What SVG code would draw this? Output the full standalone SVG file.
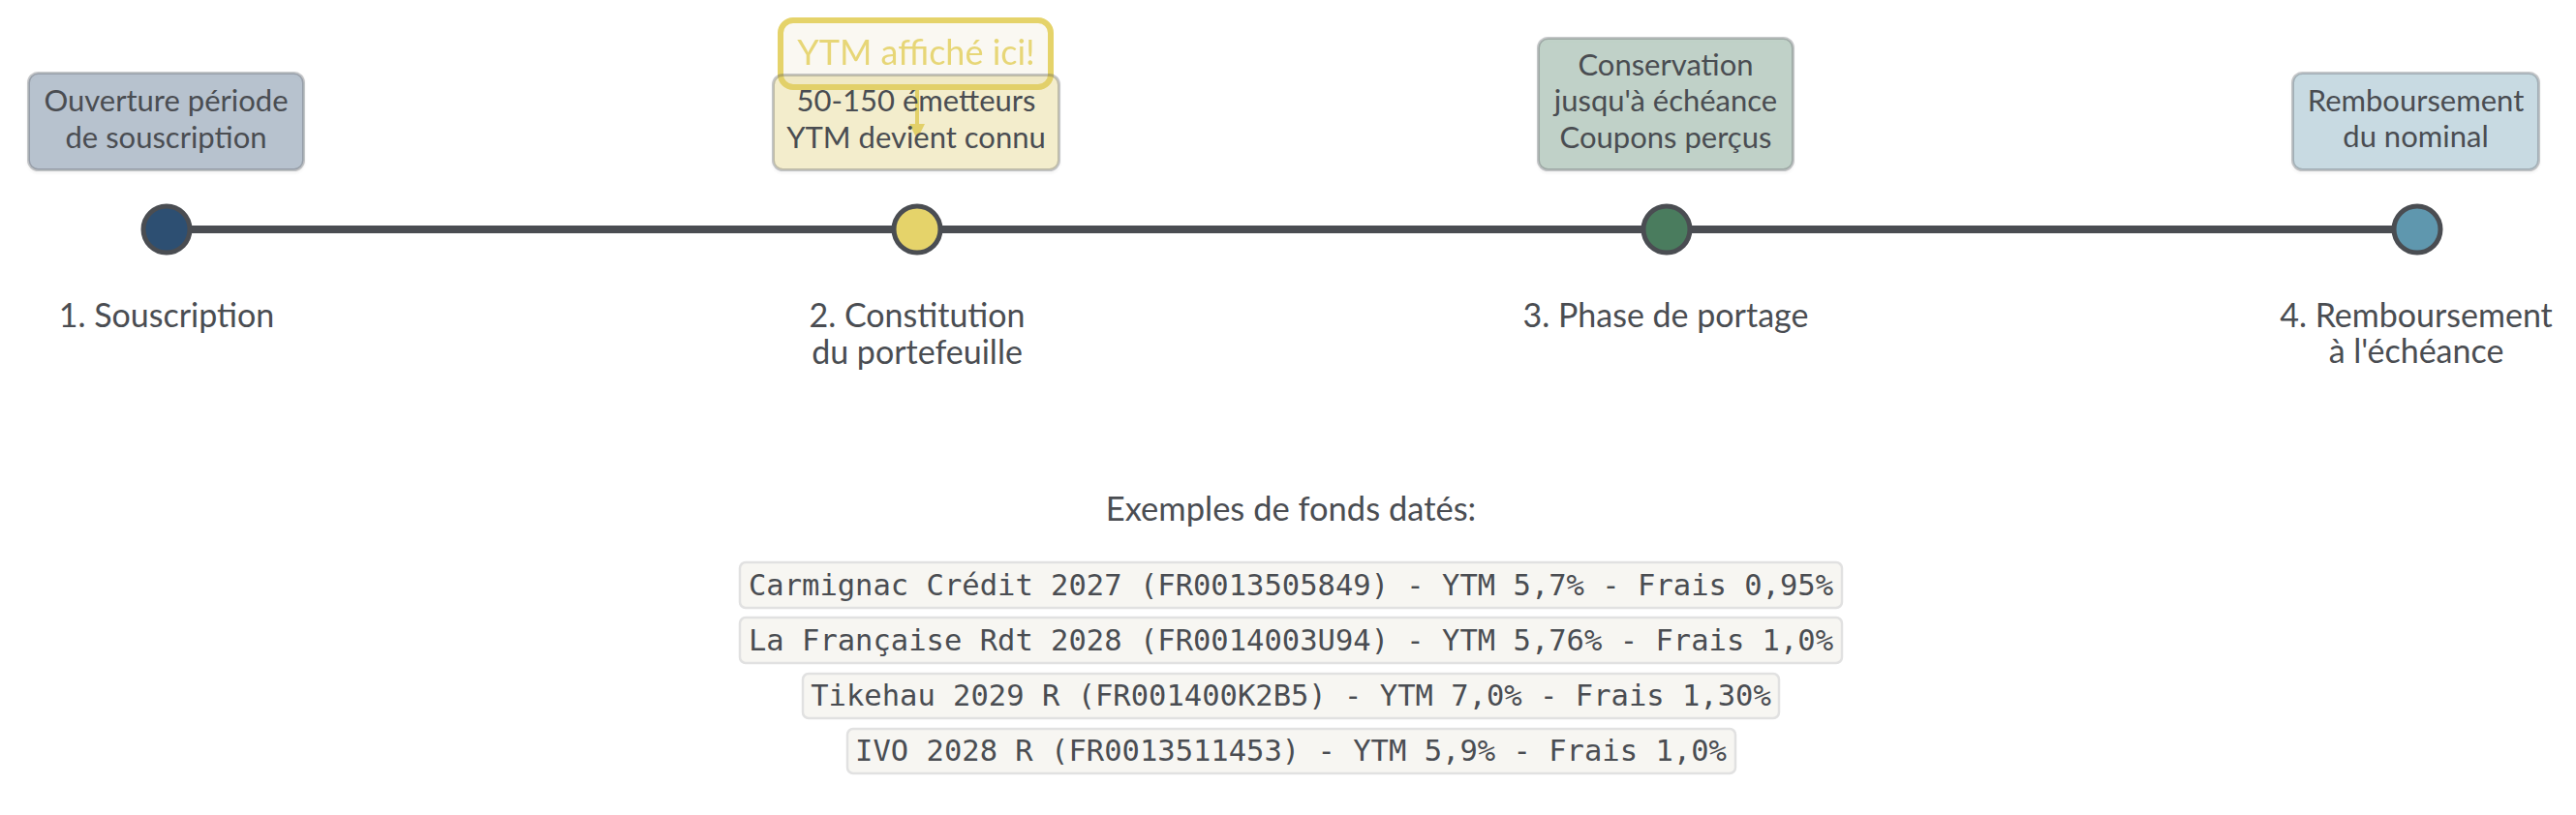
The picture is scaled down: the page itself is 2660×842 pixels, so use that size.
<svg xmlns="http://www.w3.org/2000/svg" width="2660" height="842" viewBox="0 0 2660 842">
  <defs>
    <filter id="sh" x="-10%" y="-10%" width="120%" height="130%">
      <feDropShadow dx="0" dy="2" stdDeviation="1.5" flood-color="#000" flood-opacity="0.12"/>
    </filter>
    <marker id="arr" viewBox="0 0 10 10" refX="5" refY="5" markerWidth="4" markerHeight="4" orient="auto">
      <path d="M0,0 L10,5 L0,10 z" fill="#e5d36a"/>
    </marker>
  </defs>
  <style>
    .lbl { font-family: Lato, "Open Sans", sans-serif; font-size: 34px; fill: #4a4d52; text-anchor: middle; }
    .bt { font-family: Lato, "Open Sans", sans-serif; font-size: 31px; fill: #4a4d52; text-anchor: middle; }
    .box { stroke: #4a4d52; stroke-opacity: 0.3; stroke-width: 3; fill-opacity: 0.31; }
    .dot { stroke: #4a4d52; stroke-width: 5; }
    .fund rect { fill: #f7f6f2; stroke: #e1e1e1; stroke-width: 2.5; }
    .fund text { font-family: "DejaVu Sans Mono", "Liberation Mono", monospace; font-size: 30.5px; fill: #4a4d52; text-anchor: middle; }
    .title { font-family: Lato, "Open Sans", sans-serif; font-size: 34.5px; fill: #4a4d52; text-anchor: middle; }
  </style>
  <rect width="2660" height="842" fill="#ffffff"/>

  <g id="connectors">
    <line x1="172" y1="237" x2="2496" y2="237" stroke="#4a4d52" stroke-width="8"/>
  </g>

  <g id="callout">
    <rect x="806" y="21" width="279" height="69" rx="13" fill="#faf8f2" stroke="#e5d36a" stroke-width="6"/>
    <text x="946" y="67" font-family="Lato, 'Open Sans', sans-serif" font-size="36" fill="#e5d36a" text-anchor="middle" opacity="0.9">YTM affiché ici!</text>
    <line x1="947" y1="93" x2="947" y2="136" stroke="#e5d36a" stroke-width="4" marker-end="url(#arr)"/>
  </g>

  <g id="step1">
    <rect class="box" x="29.5" y="75.5" width="284" height="100" rx="10" fill="#2d4f72" filter="url(#sh)"/>
    <text class="bt" x="171.5" y="115">Ouverture période</text>
    <text class="bt" x="171.5" y="153">de souscription</text>
    <circle class="dot" cx="172" cy="237" r="24" fill="#2d4f72"/>
    <text class="lbl" x="172" y="338">1. Souscription</text>
  </g>

  <g id="step2">
    <rect class="box" x="798.5" y="77.5" width="295" height="98" rx="10" fill="#e5d36a" filter="url(#sh)"/>
    <text class="bt" x="946" y="115">50-150 émetteurs</text>
    <text class="bt" x="946" y="153">YTM devient connu</text>
    <circle class="dot" cx="947" cy="237" r="24" fill="#e5d36a"/>
    <text class="lbl" x="947" y="338">2. Constitution</text>
    <text class="lbl" x="947" y="376">du portefeuille</text>
  </g>

  <g id="step3">
    <rect class="box" x="1588.5" y="39.5" width="263" height="136" rx="10" fill="#4a7c5e" filter="url(#sh)"/>
    <text class="bt" x="1720" y="78">Conservation</text>
    <text class="bt" x="1720" y="115">jusqu'à échéance</text>
    <text class="bt" x="1720" y="153">Coupons perçus</text>
    <circle class="dot" cx="1721" cy="237" r="24" fill="#4a7c5e"/>
    <text class="lbl" x="1720" y="338">3. Phase de portage</text>
  </g>

  <g id="step4">
    <rect class="box" x="2367.5" y="75.5" width="254" height="100" rx="10" fill="#5f97ae" filter="url(#sh)"/>
    <text class="bt" x="2494.5" y="115">Remboursement</text>
    <text class="bt" x="2494.5" y="152">du nominal</text>
    <circle class="dot" cx="2496" cy="237" r="24" fill="#5f97ae"/>
    <text class="lbl" x="2495" y="338">4. Remboursement</text>
    <text class="lbl" x="2495" y="375">à l'échéance</text>
  </g>

  <g id="examples">
    <text class="title" x="1333" y="538">Exemples de fonds datés:</text>
    <g class="fund" id="fund1">
      <rect x="764" y="581" width="1138" height="47" rx="6"/>
      <text x="1333" y="615">Carmignac Crédit 2027 (FR0013505849) - YTM 5,7% - Frais 0,95%</text>
    </g>
    <g class="fund" id="fund2">
      <rect x="764" y="638" width="1138" height="47" rx="6"/>
      <text x="1333" y="672">La Française Rdt 2028 (FR0014003U94) - YTM 5,76% - Frais 1,0%</text>
    </g>
    <g class="fund" id="fund3">
      <rect x="829" y="696" width="1008" height="46" rx="6"/>
      <text x="1333" y="729">Tikehau 2029 R (FR001400K2B5) - YTM 7,0% - Frais 1,30%</text>
    </g>
    <g class="fund" id="fund4">
      <rect x="875" y="753" width="917" height="46" rx="6"/>
      <text x="1333" y="786">IVO 2028 R (FR0013511453) - YTM 5,9% - Frais 1,0%</text>
    </g>
  </g>
</svg>
